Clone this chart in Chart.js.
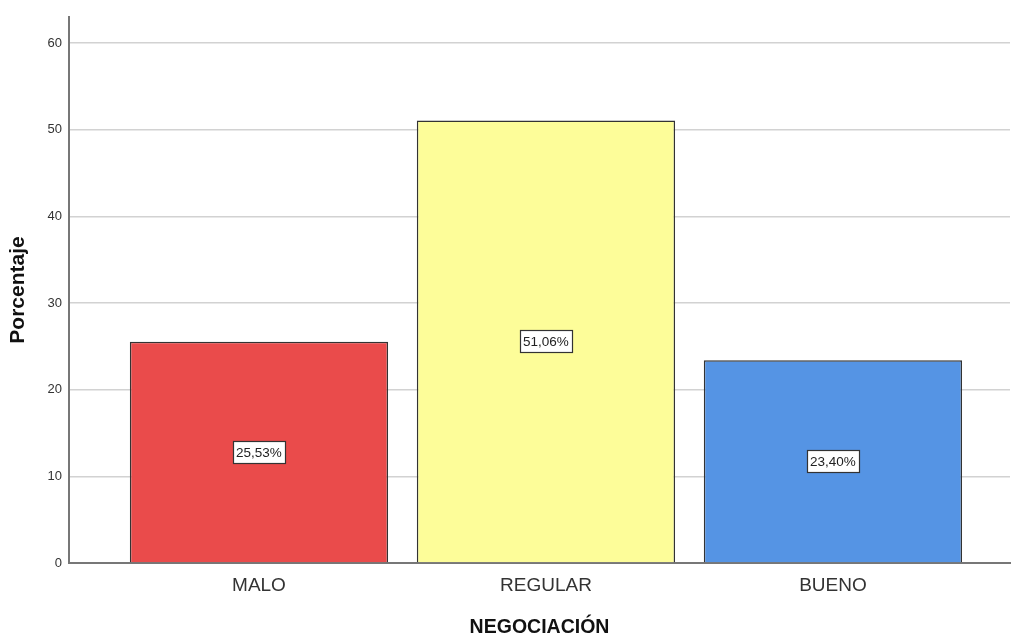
<!DOCTYPE html>
<html>
<head>
<meta charset="utf-8">
<script src="https://cdn.jsdelivr.net/npm/chart.js@4/dist/chart.umd.min.js"></script>
<style>
  html, body { margin: 0; padding: 0; background: #ffffff; }
  #wrap { width: 1011px; height: 639px; }
</style>
</head>
<body>
<div id="wrap"><canvas id="chart" width="1011" height="639"></canvas></div>
<script>
// Categories and percentages
const categories = ['MALO', 'REGULAR', 'BUENO'];
const percentages = [25.53, 51.06, 23.40];
const barColors = ['#ea4b4b', '#fdfd99', '#5594e4'];
const yTickValues = [0, 10, 20, 30, 40, 50, 60];

const positions = categories.map((_, i) => i + 1);
const FONT = '"Liberation Sans", Arial, sans-serif';

// Boxed percentage label in the middle of each bar
const valueBoxes = {
  id: 'valueBoxes',
  afterDatasetsDraw(chart) {
    const ctx = chart.ctx;
    const meta = chart.getDatasetMeta(0);
    ctx.save();
    ctx.font = '13.5px ' + FONT;
    ctx.textAlign = 'center';
    ctx.textBaseline = 'middle';
    meta.data.forEach((bar, i) => {
      const text = percentages[i].toFixed(2).replace('.', ',') + '%';
      const cx = bar.x;
      const cy = (bar.y + bar.base) / 2;
      const w = Math.round(ctx.measureText(text).width + 6);
      const h = 22;
      const left = Math.round(cx - w / 2);
      const top = Math.round(cy - h / 2);
      ctx.fillStyle = '#ffffff';
      ctx.fillRect(left, top, w, h);
      ctx.strokeStyle = '#333333';
      ctx.lineWidth = 1.2;
      ctx.strokeRect(left + 0.5, top + 0.5, w, h);
      ctx.fillStyle = '#222222';
      ctx.fillText(text, cx, cy + 1);
    });
    ctx.restore();
  }
};

new Chart(document.getElementById('chart'), {
  type: 'bar',
  data: {
    datasets: [{
      data: positions.map((x, i) => ({ x: x, y: percentages[i] })),
      backgroundColor: barColors,
      borderColor: '#333333',
      borderWidth: 1.5,
      barPercentage: 0.9,
      categoryPercentage: 1.0
    }]
  },
  options: {
    responsive: false,
    animation: false,
    layout: { padding: { top: 17, right: 1, left: 0, bottom: 0 } },
    plugins: {
      legend: { display: false },
      tooltip: { enabled: false }
    },
    scales: {
      x: {
        type: 'linear',
        offset: false,
        min: 0.338,
        max: 3.617,
        afterBuildTicks(scale) { scale.ticks = positions.map(v => ({ value: v })); },
        afterFit(scale) { scale.height = 639 - 563; },
        ticks: {
          autoSkip: false,
          maxRotation: 0,
          padding: 11,
          color: '#333333',
          font: { family: FONT, size: 19 },
          callback: (v) => categories[Math.round(v) - 1] || ''
        },
        grid: { display: false, drawTicks: false },
        border: { display: true, color: '#777777', width: 2 },
        title: {
          display: true,
          text: 'NEGOCIACIÓN',
          color: '#111111',
          font: { family: FONT, size: 19.5, weight: 'bold' },
          padding: { top: 0, bottom: 0 }
        }
      },
      y: {
        min: 0,
        max: 63,
        afterBuildTicks(scale) { scale.ticks = yTickValues.map(v => ({ value: v })); },
        afterFit(scale) { scale.width = 69; },
        ticks: {
          padding: 7,
          color: '#333333',
          font: { family: FONT, size: 13 }
        },
        grid: {
          drawTicks: false,
          color: (c) => (c.tick && c.tick.value === 0) ? 'rgba(0,0,0,0)' : '#d2d2d2',
          lineWidth: 1.5
        },
        border: { display: true, color: '#777777', width: 2 },
        title: {
          display: true,
          text: 'Porcentaje',
          color: '#111111',
          font: { family: FONT, size: 21, weight: 'bold' },
          padding: { top: 6, bottom: 0 }
        }
      }
    }
  },
  plugins: [valueBoxes]
});
</script>
</body>
</html>
